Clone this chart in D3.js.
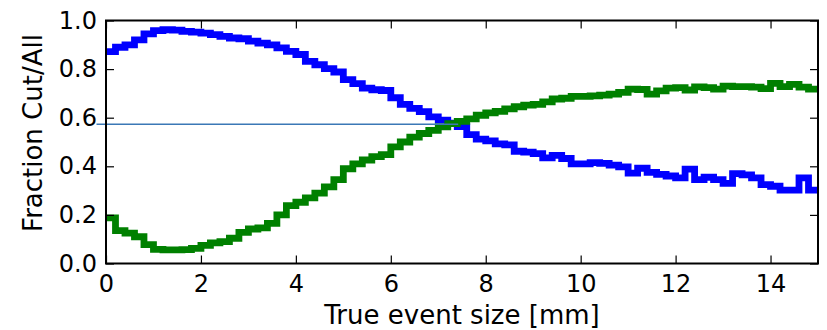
<!DOCTYPE html>
<html>
<head>
<meta charset="utf-8">
<script src="https://cdn.jsdelivr.net/npm/d3@7"></script>
<style>
  html, body { margin: 0; padding: 0; background: #fff; }
  svg { display: block; font-family: "DejaVu Sans", sans-serif; }
</style>
</head>
<body>
<svg id="chart" width="827" height="330"></svg>
<script>
// Histogram bins: 0.2 mm wide, from 0 to 15 mm
const binWidth = 0.2;
const binStarts = d3.range(75).map(i => +(i * binWidth).toFixed(1));

// Fraction of events failing the cut, per bin
const fractionCut = [
  0.872, 0.890, 0.900, 0.920, 0.945, 0.958, 0.962, 0.960, 0.955, 0.952,
  0.948, 0.942, 0.935, 0.928, 0.925, 0.915, 0.907, 0.900, 0.887, 0.873,
  0.860, 0.832, 0.818, 0.802, 0.788, 0.757, 0.740, 0.722, 0.715, 0.712,
  0.682, 0.655, 0.638, 0.625, 0.603, 0.590, 0.578, 0.563, 0.530, 0.512,
  0.505, 0.492, 0.488, 0.462, 0.458, 0.452, 0.435, 0.445, 0.432, 0.410,
  0.410, 0.415, 0.412, 0.405, 0.398, 0.372, 0.392, 0.375, 0.367, 0.360,
  0.352, 0.388, 0.345, 0.355, 0.345, 0.330, 0.370, 0.365, 0.352, 0.325,
  0.318, 0.302, 0.302, 0.352, 0.302
];

// Fraction of events passing the cut, per bin
const fractionPass = [
  0.188, 0.135, 0.125, 0.110, 0.078, 0.058, 0.056, 0.056, 0.057, 0.062,
  0.075, 0.085, 0.090, 0.104, 0.128, 0.142, 0.147, 0.165, 0.200, 0.238,
  0.252, 0.270, 0.290, 0.315, 0.345, 0.390, 0.410, 0.426, 0.440, 0.448,
  0.480, 0.500, 0.520, 0.535, 0.548, 0.562, 0.576, 0.585, 0.595, 0.610,
  0.620, 0.626, 0.636, 0.645, 0.652, 0.655, 0.665, 0.677, 0.680, 0.688,
  0.688, 0.690, 0.693, 0.697, 0.704, 0.718, 0.716, 0.697, 0.710, 0.722,
  0.724, 0.714, 0.727, 0.724, 0.718, 0.730, 0.728, 0.728, 0.726, 0.720,
  0.741, 0.728, 0.737, 0.726, 0.718
];

// Reference level (horizontal guide) and its extent in mm
const refLevel = 0.573;
const refExtent = [-0.2, 7.42];

const xTicks = [0, 2, 4, 6, 8, 10, 12, 14];
const yTicks = [0.0, 0.2, 0.4, 0.6, 0.8, 1.0];
const xDomain = [0, 15];
const yDomain = [0, 1];

const svg = d3.select("#chart");
const margin = { left: 106, right: 9, top: 20.5, bottom: 66.5 };
const W = +svg.attr("width"), H = +svg.attr("height");
const iw = W - margin.left - margin.right;
const ih = H - margin.top - margin.bottom;

const x = d3.scaleLinear().domain(xDomain).range([0, iw]);
const y = d3.scaleLinear().domain(yDomain).range([ih, 0]);

const g = svg.append("g").attr("transform", `translate(${margin.left},${margin.top})`);

g.append("clipPath").attr("id", "plot-clip")
  .append("rect").attr("width", iw).attr("height", ih);

// Step series: each bin's value held from its left edge to the next edge
function stepPoints(vals) {
  const pts = binStarts.map((s, i) => [s, vals[i]]);
  pts.push([xDomain[1], vals[vals.length - 1]]);
  return pts;
}
const stepLine = d3.line()
  .x(d => x(d[0])).y(d => y(d[1]))
  .curve(d3.curveStepAfter);

const series = [
  { vals: fractionCut, color: "#0000ff" },
  { vals: fractionPass, color: "#008000" }
];

const plot = g.append("g").attr("clip-path", "url(#plot-clip)");
plot.selectAll("path.step")
  .data(series)
  .join("path")
  .attr("class", "step")
  .attr("d", d => stepLine(stepPoints(d.vals)))
  .attr("fill", "none")
  .attr("stroke", d => d.color)
  .attr("stroke-width", 6.8)
  .attr("stroke-linejoin", "miter")
  .attr("stroke-linecap", "square");

// Horizontal guide line
g.append("line")
  .attr("x1", x(refExtent[0])).attr("x2", x(refExtent[1]))
  .attr("y1", y(refLevel)).attr("y2", y(refLevel))
  .attr("stroke", "#3b78b6")
  .attr("stroke-width", 1.5);

// Axes: inward ticks on all four sides, labels on bottom and left
const tickFont = 24;
const titleFont = 26;
const xAxis = d3.axisBottom(x).tickValues(xTicks).tickFormat(d3.format("d"))
  .tickSizeInner(-8).tickSizeOuter(0).tickPadding(11.5);
const yAxis = d3.axisLeft(y).tickValues(yTicks).tickFormat(d3.format(".1f"))
  .tickSizeInner(-8).tickSizeOuter(0).tickPadding(9);
const xAxisTop = d3.axisTop(x).tickValues(xTicks).tickFormat("")
  .tickSizeInner(-8).tickSizeOuter(0);
const yAxisRight = d3.axisRight(y).tickValues(yTicks).tickFormat("")
  .tickSizeInner(-8).tickSizeOuter(0);

function styleAxis(sel) {
  sel.select(".domain").remove();
  sel.selectAll(".tick line").attr("stroke", "#000").attr("stroke-width", 1.2);
  sel.selectAll(".tick text")
    .attr("fill", "#000")
    .style("font-family", "'DejaVu Sans', sans-serif")
    .style("font-size", tickFont + "px");
}

g.append("g").attr("transform", `translate(0,${ih})`).call(xAxis).call(styleAxis);
g.append("g").call(yAxis).call(styleAxis);
g.append("g").call(xAxisTop).call(styleAxis);
g.append("g").attr("transform", `translate(${iw},0)`).call(yAxisRight).call(styleAxis);

// Frame
g.append("rect")
  .attr("width", iw).attr("height", ih)
  .attr("fill", "none")
  .attr("stroke", "#000")
  .attr("stroke-width", 2);

// Axis titles
svg.append("text")
  .attr("x", margin.left + iw / 2)
  .attr("y", 324)
  .attr("text-anchor", "middle")
  .style("font-size", titleFont + "px")
  .attr("fill", "#000")
  .text("True event size [mm]");

svg.append("text")
  .attr("transform", "translate(42,133) rotate(-90)")
  .attr("text-anchor", "middle")
  .style("font-size", titleFont + "px")
  .attr("fill", "#000")
  .text("Fraction Cut/All");
</script>
</body>
</html>
